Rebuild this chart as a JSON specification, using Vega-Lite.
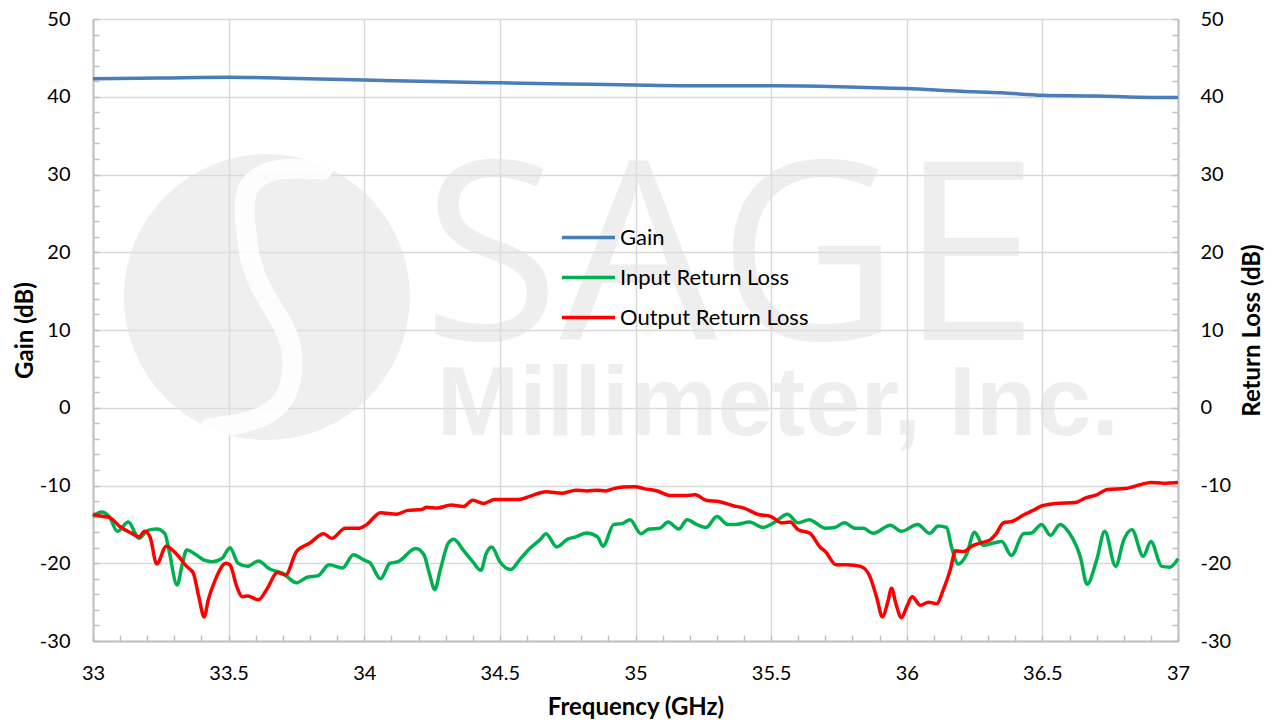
{
  "$schema": "https://vega.github.io/schema/vega-lite/v6.json",
  "width": 1085,
  "height": 622,
  "autosize": {"type": "none"},
  "padding": {"left": 93, "top": 19, "right": 102, "bottom": 83},
  "background": "white",
  "config": {
    "view": {"stroke": null},
    "font": "Lato",
    "axis": {
      "labelFont": "Lato",
      "labelFontSize": 20,
      "labelColor": "#000000",
      "titleFont": "Lato",
      "titleFontSize": 24,
      "titleFontWeight": "bold",
      "titleColor": "#000000",
      "domainColor": "#c0c0c0",
      "domainWidth": 2,
      "gridColor": "#d9d9d9",
      "gridWidth": 1.5,
      "tickColor": "#c0c0c0",
      "tickWidth": 1.5,
      "tickSize": -6
    },
    "legend": {
      "orient": "none",
      "legendX": 467,
      "legendY": 190,
      "direction": "vertical",
      "symbolType": "stroke",
      "symbolSize": 2809,
      "symbolStrokeWidth": 3.5,
      "labelFont": "Lato",
      "labelFontSize": 22,
      "labelColor": "#000000",
      "labelOffset": 3,
      "labelLimit": 0,
      "rowPadding": -8,
      "title": null
    }
  },
  "datasets": {
    "gain": [
      {"f": 33.0, "v": 42.3, "s": "Gain"},
      {"f": 33.25, "v": 42.4, "s": "Gain"},
      {"f": 33.5, "v": 42.5, "s": "Gain"},
      {"f": 33.75, "v": 42.35, "s": "Gain"},
      {"f": 34.0, "v": 42.15, "s": "Gain"},
      {"f": 34.25, "v": 41.95, "s": "Gain"},
      {"f": 34.5, "v": 41.8, "s": "Gain"},
      {"f": 34.75, "v": 41.65, "s": "Gain"},
      {"f": 35.0, "v": 41.5, "s": "Gain"},
      {"f": 35.25, "v": 41.4, "s": "Gain"},
      {"f": 35.5, "v": 41.4, "s": "Gain"},
      {"f": 35.75, "v": 41.3, "s": "Gain"},
      {"f": 36.0, "v": 41.05, "s": "Gain"},
      {"f": 36.2, "v": 40.7, "s": "Gain"},
      {"f": 36.35, "v": 40.5, "s": "Gain"},
      {"f": 36.5, "v": 40.2, "s": "Gain"},
      {"f": 36.7, "v": 40.1, "s": "Gain"},
      {"f": 36.85, "v": 39.95, "s": "Gain"},
      {"f": 37.0, "v": 39.9, "s": "Gain"}
    ],
    "logoBand": [
      {"o": 1, "f": 33.848, "v": 30.6},
      {"o": 2, "f": 33.678, "v": 31.0},
      {"o": 3, "f": 33.553, "v": 28.9},
      {"o": 4, "f": 33.56, "v": 23.8},
      {"o": 5, "f": 33.579, "v": 18.1},
      {"o": 6, "f": 33.641, "v": 13.9},
      {"o": 7, "f": 33.726, "v": 9.6},
      {"o": 8, "f": 33.745, "v": 4.5},
      {"o": 9, "f": 33.7, "v": 0.1},
      {"o": 10, "f": 33.579, "v": -2.0},
      {"o": 11, "f": 33.431, "v": -2.6}
    ],
    "rl": [
      {"f": 33.0, "v": -14.0, "s": "Input Return Loss"},
      {"f": 33.03, "v": -13.4, "s": "Input Return Loss"},
      {"f": 33.06, "v": -14.0, "s": "Input Return Loss"},
      {"f": 33.09, "v": -15.9, "s": "Input Return Loss"},
      {"f": 33.13, "v": -14.7, "s": "Input Return Loss"},
      {"f": 33.17, "v": -16.8, "s": "Input Return Loss"},
      {"f": 33.2, "v": -15.8, "s": "Input Return Loss"},
      {"f": 33.235, "v": -15.6, "s": "Input Return Loss"},
      {"f": 33.265, "v": -16.2, "s": "Input Return Loss"},
      {"f": 33.28, "v": -18.3, "s": "Input Return Loss"},
      {"f": 33.31, "v": -22.8, "s": "Input Return Loss"},
      {"f": 33.33, "v": -20.0, "s": "Input Return Loss"},
      {"f": 33.345, "v": -18.3, "s": "Input Return Loss"},
      {"f": 33.38, "v": -18.9, "s": "Input Return Loss"},
      {"f": 33.41, "v": -19.6, "s": "Input Return Loss"},
      {"f": 33.44, "v": -19.8, "s": "Input Return Loss"},
      {"f": 33.475, "v": -19.4, "s": "Input Return Loss"},
      {"f": 33.505, "v": -18.0, "s": "Input Return Loss"},
      {"f": 33.535, "v": -20.0, "s": "Input Return Loss"},
      {"f": 33.57, "v": -20.4, "s": "Input Return Loss"},
      {"f": 33.61, "v": -19.7, "s": "Input Return Loss"},
      {"f": 33.65, "v": -20.7, "s": "Input Return Loss"},
      {"f": 33.7, "v": -21.3, "s": "Input Return Loss"},
      {"f": 33.75, "v": -22.5, "s": "Input Return Loss"},
      {"f": 33.79, "v": -21.8, "s": "Input Return Loss"},
      {"f": 33.83, "v": -21.6, "s": "Input Return Loss"},
      {"f": 33.87, "v": -20.2, "s": "Input Return Loss"},
      {"f": 33.92, "v": -20.6, "s": "Input Return Loss"},
      {"f": 33.96, "v": -18.9, "s": "Input Return Loss"},
      {"f": 34.0, "v": -19.6, "s": "Input Return Loss"},
      {"f": 34.02, "v": -19.9, "s": "Input Return Loss"},
      {"f": 34.06, "v": -22.0, "s": "Input Return Loss"},
      {"f": 34.095, "v": -20.0, "s": "Input Return Loss"},
      {"f": 34.125, "v": -19.8, "s": "Input Return Loss"},
      {"f": 34.19, "v": -18.1, "s": "Input Return Loss"},
      {"f": 34.22, "v": -18.9, "s": "Input Return Loss"},
      {"f": 34.24, "v": -21.3, "s": "Input Return Loss"},
      {"f": 34.26, "v": -23.4, "s": "Input Return Loss"},
      {"f": 34.28, "v": -20.9, "s": "Input Return Loss"},
      {"f": 34.31, "v": -17.4, "s": "Input Return Loss"},
      {"f": 34.33, "v": -16.9, "s": "Input Return Loss"},
      {"f": 34.365, "v": -18.3, "s": "Input Return Loss"},
      {"f": 34.4, "v": -19.8, "s": "Input Return Loss"},
      {"f": 34.43, "v": -20.9, "s": "Input Return Loss"},
      {"f": 34.45, "v": -18.7, "s": "Input Return Loss"},
      {"f": 34.47, "v": -17.9, "s": "Input Return Loss"},
      {"f": 34.5, "v": -19.8, "s": "Input Return Loss"},
      {"f": 34.54, "v": -20.8, "s": "Input Return Loss"},
      {"f": 34.574, "v": -19.5, "s": "Input Return Loss"},
      {"f": 34.61, "v": -18.1, "s": "Input Return Loss"},
      {"f": 34.65, "v": -16.9, "s": "Input Return Loss"},
      {"f": 34.67, "v": -16.2, "s": "Input Return Loss"},
      {"f": 34.71, "v": -17.9, "s": "Input Return Loss"},
      {"f": 34.75, "v": -16.9, "s": "Input Return Loss"},
      {"f": 34.78, "v": -16.6, "s": "Input Return Loss"},
      {"f": 34.82, "v": -16.1, "s": "Input Return Loss"},
      {"f": 34.86, "v": -16.6, "s": "Input Return Loss"},
      {"f": 34.88, "v": -17.8, "s": "Input Return Loss"},
      {"f": 34.92, "v": -15.0, "s": "Input Return Loss"},
      {"f": 34.95, "v": -14.9, "s": "Input Return Loss"},
      {"f": 34.98, "v": -14.4, "s": "Input Return Loss"},
      {"f": 35.02, "v": -16.2, "s": "Input Return Loss"},
      {"f": 35.05, "v": -15.6, "s": "Input Return Loss"},
      {"f": 35.09, "v": -15.5, "s": "Input Return Loss"},
      {"f": 35.12, "v": -14.7, "s": "Input Return Loss"},
      {"f": 35.16, "v": -15.6, "s": "Input Return Loss"},
      {"f": 35.19, "v": -14.4, "s": "Input Return Loss"},
      {"f": 35.225, "v": -15.0, "s": "Input Return Loss"},
      {"f": 35.26, "v": -15.4, "s": "Input Return Loss"},
      {"f": 35.3, "v": -14.0, "s": "Input Return Loss"},
      {"f": 35.34, "v": -15.0, "s": "Input Return Loss"},
      {"f": 35.37, "v": -15.0, "s": "Input Return Loss"},
      {"f": 35.42, "v": -14.7, "s": "Input Return Loss"},
      {"f": 35.47, "v": -15.4, "s": "Input Return Loss"},
      {"f": 35.51, "v": -14.8, "s": "Input Return Loss"},
      {"f": 35.56, "v": -13.7, "s": "Input Return Loss"},
      {"f": 35.6, "v": -14.8, "s": "Input Return Loss"},
      {"f": 35.64, "v": -14.4, "s": "Input Return Loss"},
      {"f": 35.7, "v": -15.5, "s": "Input Return Loss"},
      {"f": 35.735, "v": -15.4, "s": "Input Return Loss"},
      {"f": 35.77, "v": -14.8, "s": "Input Return Loss"},
      {"f": 35.81, "v": -15.5, "s": "Input Return Loss"},
      {"f": 35.84, "v": -15.5, "s": "Input Return Loss"},
      {"f": 35.876, "v": -16.15, "s": "Input Return Loss"},
      {"f": 35.94, "v": -15.1, "s": "Input Return Loss"},
      {"f": 35.98, "v": -15.9, "s": "Input Return Loss"},
      {"f": 36.04, "v": -15.0, "s": "Input Return Loss"},
      {"f": 36.085, "v": -16.15, "s": "Input Return Loss"},
      {"f": 36.116, "v": -15.2, "s": "Input Return Loss"},
      {"f": 36.147, "v": -15.4, "s": "Input Return Loss"},
      {"f": 36.165, "v": -17.9, "s": "Input Return Loss"},
      {"f": 36.19, "v": -20.1, "s": "Input Return Loss"},
      {"f": 36.22, "v": -18.9, "s": "Input Return Loss"},
      {"f": 36.25, "v": -16.0, "s": "Input Return Loss"},
      {"f": 36.282, "v": -17.7, "s": "Input Return Loss"},
      {"f": 36.32, "v": -17.4, "s": "Input Return Loss"},
      {"f": 36.35, "v": -17.2, "s": "Input Return Loss"},
      {"f": 36.386, "v": -19.0, "s": "Input Return Loss"},
      {"f": 36.43, "v": -16.2, "s": "Input Return Loss"},
      {"f": 36.46, "v": -16.1, "s": "Input Return Loss"},
      {"f": 36.497, "v": -15.0, "s": "Input Return Loss"},
      {"f": 36.53, "v": -16.4, "s": "Input Return Loss"},
      {"f": 36.565, "v": -15.0, "s": "Input Return Loss"},
      {"f": 36.6, "v": -16.15, "s": "Input Return Loss"},
      {"f": 36.64, "v": -19.2, "s": "Input Return Loss"},
      {"f": 36.665, "v": -22.7, "s": "Input Return Loss"},
      {"f": 36.7, "v": -19.6, "s": "Input Return Loss"},
      {"f": 36.73, "v": -15.9, "s": "Input Return Loss"},
      {"f": 36.77, "v": -20.4, "s": "Input Return Loss"},
      {"f": 36.8, "v": -17.0, "s": "Input Return Loss"},
      {"f": 36.83, "v": -15.7, "s": "Input Return Loss"},
      {"f": 36.872, "v": -19.1, "s": "Input Return Loss"},
      {"f": 36.9, "v": -17.2, "s": "Input Return Loss"},
      {"f": 36.94, "v": -20.4, "s": "Input Return Loss"},
      {"f": 36.97, "v": -20.5, "s": "Input Return Loss"},
      {"f": 37.0, "v": -19.4, "s": "Input Return Loss"},
      {"f": 33.0, "v": -13.7, "s": "Output Return Loss"},
      {"f": 33.04, "v": -14.0, "s": "Output Return Loss"},
      {"f": 33.06, "v": -14.1, "s": "Output Return Loss"},
      {"f": 33.1, "v": -15.3, "s": "Output Return Loss"},
      {"f": 33.14, "v": -16.1, "s": "Output Return Loss"},
      {"f": 33.17, "v": -16.6, "s": "Output Return Loss"},
      {"f": 33.19, "v": -15.9, "s": "Output Return Loss"},
      {"f": 33.21, "v": -16.6, "s": "Output Return Loss"},
      {"f": 33.235, "v": -20.1, "s": "Output Return Loss"},
      {"f": 33.27, "v": -17.8, "s": "Output Return Loss"},
      {"f": 33.31, "v": -18.9, "s": "Output Return Loss"},
      {"f": 33.345, "v": -20.4, "s": "Output Return Loss"},
      {"f": 33.37, "v": -21.3, "s": "Output Return Loss"},
      {"f": 33.39, "v": -24.3, "s": "Output Return Loss"},
      {"f": 33.41, "v": -26.9, "s": "Output Return Loss"},
      {"f": 33.425, "v": -24.7, "s": "Output Return Loss"},
      {"f": 33.45, "v": -22.2, "s": "Output Return Loss"},
      {"f": 33.49, "v": -20.0, "s": "Output Return Loss"},
      {"f": 33.505, "v": -20.2, "s": "Output Return Loss"},
      {"f": 33.53, "v": -23.0, "s": "Output Return Loss"},
      {"f": 33.55, "v": -24.3, "s": "Output Return Loss"},
      {"f": 33.57, "v": -24.2, "s": "Output Return Loss"},
      {"f": 33.61, "v": -24.7, "s": "Output Return Loss"},
      {"f": 33.64, "v": -23.4, "s": "Output Return Loss"},
      {"f": 33.68, "v": -21.2, "s": "Output Return Loss"},
      {"f": 33.71, "v": -21.5, "s": "Output Return Loss"},
      {"f": 33.75, "v": -18.5, "s": "Output Return Loss"},
      {"f": 33.8, "v": -17.4, "s": "Output Return Loss"},
      {"f": 33.85, "v": -16.2, "s": "Output Return Loss"},
      {"f": 33.88, "v": -16.8, "s": "Output Return Loss"},
      {"f": 33.93, "v": -15.5, "s": "Output Return Loss"},
      {"f": 33.98, "v": -15.5, "s": "Output Return Loss"},
      {"f": 34.01, "v": -15.0, "s": "Output Return Loss"},
      {"f": 34.06, "v": -13.5, "s": "Output Return Loss"},
      {"f": 34.12, "v": -13.7, "s": "Output Return Loss"},
      {"f": 34.16, "v": -13.2, "s": "Output Return Loss"},
      {"f": 34.21, "v": -13.1, "s": "Output Return Loss"},
      {"f": 34.23, "v": -12.8, "s": "Output Return Loss"},
      {"f": 34.27, "v": -12.9, "s": "Output Return Loss"},
      {"f": 34.32, "v": -12.5, "s": "Output Return Loss"},
      {"f": 34.365, "v": -12.7, "s": "Output Return Loss"},
      {"f": 34.4, "v": -11.9, "s": "Output Return Loss"},
      {"f": 34.44, "v": -12.3, "s": "Output Return Loss"},
      {"f": 34.48, "v": -11.8, "s": "Output Return Loss"},
      {"f": 34.57, "v": -11.8, "s": "Output Return Loss"},
      {"f": 34.61, "v": -11.4, "s": "Output Return Loss"},
      {"f": 34.67, "v": -10.8, "s": "Output Return Loss"},
      {"f": 34.73, "v": -11.0, "s": "Output Return Loss"},
      {"f": 34.78, "v": -10.6, "s": "Output Return Loss"},
      {"f": 34.82, "v": -10.7, "s": "Output Return Loss"},
      {"f": 34.86, "v": -10.6, "s": "Output Return Loss"},
      {"f": 34.89, "v": -10.7, "s": "Output Return Loss"},
      {"f": 34.92, "v": -10.4, "s": "Output Return Loss"},
      {"f": 34.955, "v": -10.2, "s": "Output Return Loss"},
      {"f": 35.0, "v": -10.15, "s": "Output Return Loss"},
      {"f": 35.03, "v": -10.4, "s": "Output Return Loss"},
      {"f": 35.08, "v": -10.7, "s": "Output Return Loss"},
      {"f": 35.13, "v": -11.3, "s": "Output Return Loss"},
      {"f": 35.18, "v": -11.3, "s": "Output Return Loss"},
      {"f": 35.22, "v": -11.2, "s": "Output Return Loss"},
      {"f": 35.26, "v": -11.9, "s": "Output Return Loss"},
      {"f": 35.31, "v": -12.1, "s": "Output Return Loss"},
      {"f": 35.36, "v": -12.6, "s": "Output Return Loss"},
      {"f": 35.4, "v": -12.9, "s": "Output Return Loss"},
      {"f": 35.45, "v": -13.7, "s": "Output Return Loss"},
      {"f": 35.5, "v": -14.0, "s": "Output Return Loss"},
      {"f": 35.54, "v": -14.8, "s": "Output Return Loss"},
      {"f": 35.57, "v": -14.7, "s": "Output Return Loss"},
      {"f": 35.6, "v": -15.7, "s": "Output Return Loss"},
      {"f": 35.643, "v": -16.15, "s": "Output Return Loss"},
      {"f": 35.68, "v": -17.9, "s": "Output Return Loss"},
      {"f": 35.7, "v": -18.5, "s": "Output Return Loss"},
      {"f": 35.74, "v": -20.2, "s": "Output Return Loss"},
      {"f": 35.78, "v": -20.2, "s": "Output Return Loss"},
      {"f": 35.83, "v": -20.4, "s": "Output Return Loss"},
      {"f": 35.864, "v": -21.7, "s": "Output Return Loss"},
      {"f": 35.89, "v": -24.5, "s": "Output Return Loss"},
      {"f": 35.91, "v": -26.9, "s": "Output Return Loss"},
      {"f": 35.93, "v": -25.0, "s": "Output Return Loss"},
      {"f": 35.944, "v": -23.2, "s": "Output Return Loss"},
      {"f": 35.96, "v": -25.2, "s": "Output Return Loss"},
      {"f": 35.98, "v": -27.0, "s": "Output Return Loss"},
      {"f": 36.0, "v": -25.6, "s": "Output Return Loss"},
      {"f": 36.02, "v": -24.3, "s": "Output Return Loss"},
      {"f": 36.05, "v": -25.4, "s": "Output Return Loss"},
      {"f": 36.08, "v": -25.0, "s": "Output Return Loss"},
      {"f": 36.11, "v": -25.2, "s": "Output Return Loss"},
      {"f": 36.135, "v": -23.4, "s": "Output Return Loss"},
      {"f": 36.16, "v": -20.9, "s": "Output Return Loss"},
      {"f": 36.18, "v": -18.4, "s": "Output Return Loss"},
      {"f": 36.21, "v": -18.5, "s": "Output Return Loss"},
      {"f": 36.24, "v": -17.8, "s": "Output Return Loss"},
      {"f": 36.27, "v": -17.4, "s": "Output Return Loss"},
      {"f": 36.307, "v": -17.0, "s": "Output Return Loss"},
      {"f": 36.33, "v": -16.2, "s": "Output Return Loss"},
      {"f": 36.356, "v": -14.8, "s": "Output Return Loss"},
      {"f": 36.39, "v": -14.6, "s": "Output Return Loss"},
      {"f": 36.43, "v": -13.8, "s": "Output Return Loss"},
      {"f": 36.466, "v": -13.2, "s": "Output Return Loss"},
      {"f": 36.5, "v": -12.6, "s": "Output Return Loss"},
      {"f": 36.55, "v": -12.3, "s": "Output Return Loss"},
      {"f": 36.62, "v": -12.2, "s": "Output Return Loss"},
      {"f": 36.66, "v": -11.6, "s": "Output Return Loss"},
      {"f": 36.7, "v": -11.2, "s": "Output Return Loss"},
      {"f": 36.74, "v": -10.5, "s": "Output Return Loss"},
      {"f": 36.805, "v": -10.4, "s": "Output Return Loss"},
      {"f": 36.86, "v": -9.9, "s": "Output Return Loss"},
      {"f": 36.9, "v": -9.6, "s": "Output Return Loss"},
      {"f": 36.946, "v": -9.7, "s": "Output Return Loss"},
      {"f": 37.0, "v": -9.6, "s": "Output Return Loss"}
    ]
  },
  "encoding": {
    "x": {
      "field": "f",
      "type": "quantitative",
      "scale": {"domain": [33, 37], "nice": false, "zero": false},
      "axis": {
        "title": "Frequency (GHz)",
        "values": [33, 33.1, 33.2, 33.3, 33.4, 33.5, 33.6, 33.7, 33.8, 33.9, 34, 34.1, 34.2, 34.3, 34.4, 34.5, 34.6, 34.7, 34.8, 34.9, 35, 35.1, 35.2, 35.3, 35.4, 35.5, 35.6, 35.7, 35.8, 35.9, 36, 36.1, 36.2, 36.3, 36.4, 36.5, 36.6, 36.7, 36.8, 36.9, 37],
        "labelExpr": "round(datum.value*10)%5==0 ? '' + datum.value : ''",
        "labelOverlap": false,
        "labelFlush": false,
        "grid": true,
        "gridOpacity": {"condition": {"test": "round(datum.value*10)%5==0", "value": 1}, "value": 0},
        "labelPadding": 28,
        "titlePadding": 12
      }
    }
  },
  "layer": [
    {
      "data": {"values": [{"f": 33.641, "v": 14.24}]},
      "mark": {"type": "point", "filled": true, "shape": "circle", "size": 81796, "color": "#dfdfdf", "opacity": 0.5},
      "encoding": {
        "y": {"field": "v", "type": "quantitative", "scale": {"domain": [-30, 50], "nice": false, "zero": false}, "axis": null}
      }
    },
    {
      "data": {"name": "logoBand"},
      "mark": {"type": "line", "color": "#ffffff", "strokeWidth": 20, "opacity": 0.85, "interpolate": "basis", "strokeCap": "round"},
      "encoding": {
        "y": {"field": "v", "type": "quantitative", "scale": {"domain": [-30, 50], "nice": false, "zero": false}, "axis": null},
        "order": {"field": "o", "type": "quantitative"}
      }
    },
    {
      "data": {"values": [{"f": 35.35, "v": 8.7, "t": "SAGE"}]},
      "mark": {"type": "text", "font": "Open Sans", "fontWeight": 400, "fontSize": 250, "align": "center", "baseline": "alphabetic", "color": "#dfdfdf", "opacity": 0.5},
      "encoding": {
        "y": {"field": "v", "type": "quantitative", "scale": {"domain": [-30, 50], "nice": false, "zero": false}, "axis": null},
        "text": {"field": "t"}
      }
    },
    {
      "data": {"values": [{"f": 35.525, "v": -3.5, "t": "Millimeter, Inc."}]},
      "mark": {"type": "text", "font": "Liberation Sans", "fontWeight": "bold", "fontSize": 99, "align": "center", "baseline": "alphabetic", "color": "#dfdfdf", "opacity": 0.5},
      "encoding": {
        "y": {"field": "v", "type": "quantitative", "scale": {"domain": [-30, 50], "nice": false, "zero": false}, "axis": null},
        "text": {"field": "t"}
      }
    },
    {
      "data": {"name": "gain"},
      "mark": {"type": "line", "strokeWidth": 3.5, "interpolate": "monotone"},
      "encoding": {
        "y": {
          "field": "v",
          "type": "quantitative",
          "scale": {"domain": [-30, 50], "nice": false, "zero": false},
          "axis": {
            "title": "Gain (dB)",
            "orient": "left",
            "values": [-30, -28, -26, -24, -22, -20, -18, -16, -14, -12, -10, -8, -6, -4, -2, 0, 2, 4, 6, 8, 10, 12, 14, 16, 18, 20, 22, 24, 26, 28, 30, 32, 34, 36, 38, 40, 42, 44, 46, 48, 50],
            "labelExpr": "datum.value%10==0 ? '' + datum.value : ''",
            "labelOverlap": false,
            "labelFlush": false,
            "grid": true,
            "gridOpacity": {"condition": {"test": "datum.value%10==0", "value": 1}, "value": 0},
            "labelPadding": 29,
            "titlePadding": 2
          }
        },
        "color": {
          "field": "s",
          "type": "nominal",
          "scale": {"domain": ["Gain", "Input Return Loss", "Output Return Loss"], "range": ["#4A7EBB", "#00B050", "#FF0000"]},
          "legend": {"title": null}
        }
      }
    },
    {
      "data": {"name": "rl"},
      "mark": {"type": "line", "strokeWidth": 3.5, "interpolate": "monotone"},
      "encoding": {
        "y": {
          "field": "v",
          "type": "quantitative",
          "scale": {"domain": [-30, 50], "nice": false, "zero": false},
          "axis": {
            "title": "Return Loss (dB)",
            "orient": "right",
            "titleAngle": 270,
            "titleBaseline": "top",
            "values": [-30, -28, -26, -24, -22, -20, -18, -16, -14, -12, -10, -8, -6, -4, -2, 0, 2, 4, 6, 8, 10, 12, 14, 16, 18, 20, 22, 24, 26, 28, 30, 32, 34, 36, 38, 40, 42, 44, 46, 48, 50],
            "labelExpr": "datum.value%10==0 ? '' + datum.value : ''",
            "labelOverlap": false,
            "labelFlush": false,
            "grid": false,
            "labelPadding": 28,
            "titlePadding": 10
          }
        },
        "color": {"field": "s", "type": "nominal"}
      }
    }
  ],
  "resolve": {"axis": {"y": "independent"}}
}
